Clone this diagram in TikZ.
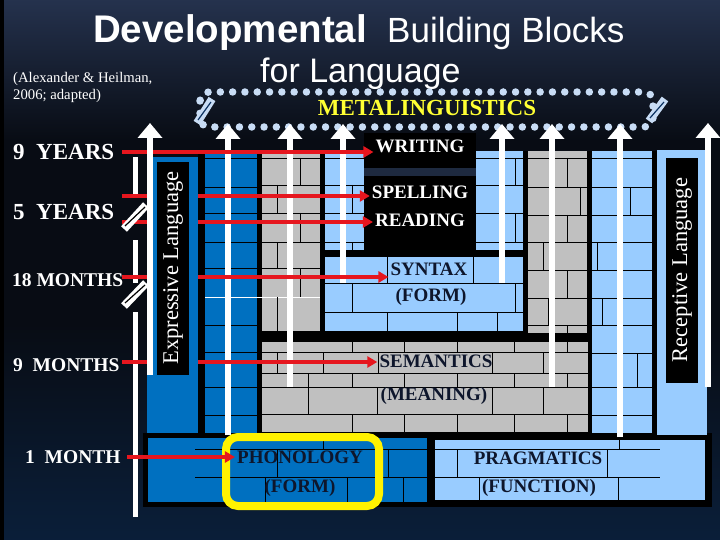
\documentclass[tikz,border=0pt]{standalone}
\usepackage{fontspec}
\setmainfont{Liberation Serif}
\newfontfamily\titlefont{Liberation Sans}
\usetikzlibrary{arrows.meta}
\newcommand\myfs[1]{\fontsize{#1}{#1}\selectfont}
\definecolor{bluebrick}{RGB}{0,112,192}
\definecolor{lightbrick}{RGB}{153,204,255}
\definecolor{graybrick}{RGB}{192,192,192}
\definecolor{redline}{RGB}{230,22,30}
\definecolor{dotblue}{RGB}{200,220,245}
\definecolor{blocktext}{RGB}{14,22,44}
\definecolor{metayellow}{RGB}{255,255,51}
\definecolor{bgtop}{RGB}{12,50,98}
\definecolor{bgmidtop}{RGB}{10,28,52}
\definecolor{bgdark}{RGB}{8,12,20}
\definecolor{bglow}{RGB}{52,70,108}
\definecolor{bgbot}{RGB}{90,110,156}
\definecolor{stripdark}{RGB}{30,42,64}
\pgfdeclareverticalshading{bgshade}{100bp}{color(0bp)=(bgtop); color(28bp)=(bgmidtop); color(45bp)=(bgdark); color(62bp)=(bgdark); color(82bp)=(bglow); color(100bp)=(bgbot)}
\begin{document}
\begin{tikzpicture}[x=1pt,y=-1pt,
  brick/.style={draw=black,line width=0.9pt},
  warrow/.style={draw=white,line width=6pt,-{Triangle[width=24pt,length=15pt]}},
  rarrow/.style={draw=redline,line width=4pt,-{Triangle[width=11pt,length=10pt]}},
  agelabel/.style={text=white,font=\bfseries\myfs{19.5},inner sep=0pt,anchor=west},
  blocklabel/.style={text=blocktext,font=\bfseries\myfs{19},inner sep=2pt},
  whitelabel/.style={text=white,font=\bfseries\myfs{19},inner sep=2pt},
  sidelabel/.style={text=white,font=\myfs{22.5},rotate=90,inner sep=0pt},
  breakmark/.style={draw=white,line width=8pt},
  breakline/.style={draw=black,line width=1.2pt}]
\useasboundingbox (0,0) rectangle (720,540);
\shade[shading=bgshade] (0,0) rectangle (720,540);
\fill[black] (0,0) rectangle (4,540);

% title
\node[anchor=base west,inner sep=0pt,text=white,font=\titlefont\bfseries\myfs{38.5}] (title1) at (93,43) {Developmental};
\node[anchor=base west,inner sep=0pt,text=white,font=\titlefont\myfs{35}] (title2) at (387,43) {Building Blocks};
\node[anchor=base west,inner sep=0pt,text=white,font=\titlefont\myfs{34}] (title3) at (260,83) {for Language};
\node[anchor=base west,inner sep=0pt,text=white,font=\myfs{14.7}] (cite1) at (13,83) {(Alexander \& Heilman,};
\node[anchor=base west,inner sep=0pt,text=white,font=\myfs{14.7}] (cite2) at (13,100) {2006; adapted)};

% metalinguistics
\draw[dotblue,line width=7.5pt,line cap=round,dash pattern=on 0pt off 12.3pt,rounded corners=9pt] (200,92) rectangle (653,127);
\draw[breakmark,draw=dotblue] (197,123) -- (212,99);
\draw[breakline,draw=bgtop] (198,120) -- (211,102);
\draw[breakmark,draw=dotblue] (649,121) -- (665,99);
\draw[breakline,draw=bgtop] (650,118) -- (664,102);
\node[text=metayellow,font=\bfseries\myfs{23},inner sep=0pt] (meta) at (427,108) {METALINGUISTICS};

% block backgrounds
\fill[black] (198,151) rectangle (657,437);
\fill[black] (143,433) rectangle (712,507);
\fill[bluebrick] (205,153) rectangle (257,433);
\fill[graybrick] (262,153) rectangle (320,331);
\fill[lightbrick] (325,151) rectangle (523,250);
\fill[lightbrick] (325,257) rectangle (523,331);
\fill[graybrick] (528,151) rectangle (587,333);
\fill[graybrick] (262,342) rectangle (588,432);
\fill[lightbrick] (592,151) rectangle (652,433);
\fill[lightbrick] (657,150) rectangle (707,435);
\fill[bluebrick] (148,438) rectangle (427,502);
\fill[lightbrick] (435,440) rectangle (705,500);

% brick joints: dark blue column
\foreach \y in {158,187,213,242,268,325,352,387,415} \draw[brick] (205,\y) -- (257,\y);
\draw[white,line width=0.6pt] (205,297) -- (320,297);
% gray left column
\foreach \y in {158,185,213,242,268} \draw[brick] (262,\y) -- (320,\y);
\foreach \a/\b/\x in {158/185/300,185/213/277,213/242/300,242/268/277,268/297/300,297/331/277} \draw[brick] (\x,\a) -- (\x,\b);
% light blue upper zone
\foreach \y in {158,185,213,242} \draw[brick] (325,\y) -- (523,\y);
\foreach \a/\b/\x in {158/185/515,185/213/352,213/242/515,242/250/352} \draw[brick] (\x,\a) -- (\x,\b);
% syntax block
\foreach \y in {283,312} \draw[brick] (325,\y) -- (523,\y);
\foreach \a/\b/\x in {257/283/387,257/283/473,283/312/352,283/312/515,312/331/387,312/331/457,312/331/497} \draw[brick] (\x,\a) -- (\x,\b);
% gray right column
\foreach \y in {158,187,215,242,270,298,325} \draw[brick] (528,\y) -- (587,\y);
\foreach \a/\b/\x in {158/187/567,187/215/580,215/242/567,242/270/543,270/298/567,298/325/548,325/333/567} \draw[brick] (\x,\a) -- (\x,\b);
% light blue right column
\foreach \y in {158,187,215,242,270,298,325,353,387,415} \draw[brick] (592,\y) -- (652,\y);
\foreach \a/\b/\x in {187/215/630,242/270/597,298/325/602,353/387/637,387/415/618} \draw[brick] (\x,\a) -- (\x,\b);
% semantics bottom
\foreach \y in {352,373,387,414} \draw[brick] (262,\y) -- (588,\y);
\foreach \x in {352,404,457,514,567} {\draw[brick] (\x,342) -- (\x,352); \draw[brick] (\x,373) -- (\x,387); \draw[brick] (\x,414) -- (\x,432);}
\foreach \x in {277,323,378,492,543} \draw[brick] (\x,352) -- (\x,373);
\foreach \x in {308,377,492,543} \draw[brick] (\x,387) -- (\x,414);
\draw[brick] (308,373) -- (308,387);
% phonology
\draw[brick] (195,449) -- (427,449);
\draw[brick] (195,477) -- (427,477);
\foreach \a/\b/\x in {438/449/323,449/477/277,449/477/388,477/502/265,477/502/347,477/502/403} \draw[brick] (\x,\a) -- (\x,\b);
% pragmatics
\draw[brick] (435,449) -- (660,449);
\draw[brick] (435,477) -- (660,477);
\foreach \a/\b/\x in {440/449/619,449/477/457,449/477/607,477/500/479,477/500/618} \draw[brick] (\x,\a) -- (\x,\b);

% black label boxes
\fill[black] (364,133) rectangle (476,168);
\fill[stripdark] (364,168) rectangle (476,176);
\fill[black] (364,176) rectangle (476,250);
\fill[black] (666,158) rectangle (698,383);

% phonology highlight
\draw[yellow,line width=8pt,rounded corners=12pt] (226,437) rectangle (379,506);

% block texts
\node[whitelabel] (writing) at (420,146) {WRITING};
\node[whitelabel] (spelling) at (420,192) {SPELLING};
\node[whitelabel] (reading) at (420,220) {READING};
\node[blocklabel] (syntax) at (429,269) {SYNTAX};
\node[blocklabel] (syntaxform) at (431,297) {(FORM)};
\node[blocklabel] (semantics) at (436,361) {SEMANTICS};
\node[blocklabel] (meaning) at (434,396) {(MEANING)};
\node[blocklabel] (phonology) at (300,457) {PHONOLOGY};
\node[blocklabel] (phonform) at (300,488) {(FORM)};
\node[blocklabel] (pragmatics) at (538,458) {PRAGMATICS};
\node[blocklabel] (function) at (539,488) {(FUNCTION)};
\node[sidelabel] (receptive) at (682,270) {Receptive Language};

% white developmental arrows
\coordinate (w2s) at (228,435); \coordinate (w2e) at (228,124);
\coordinate (w3s) at (290,387); \coordinate (w3e) at (290,124);
\coordinate (w4s) at (343,283); \coordinate (w4e) at (343,124);
\coordinate (w5s) at (502,283); \coordinate (w5e) at (502,124);
\coordinate (w6s) at (552,387); \coordinate (w6e) at (552,124);
\coordinate (w7s) at (620,437); \coordinate (w7e) at (620,124);
\coordinate (w8s) at (708,387); \coordinate (w8e) at (708,123);
\foreach \i in {2,...,8} \draw[warrow] (w\i s) -- (w\i e);

% time axis
\coordinate (t1) at (135,157); \coordinate (t2) at (135,197);
\coordinate (t3) at (135,240); \coordinate (t4) at (135,283);
\coordinate (t5) at (135,312); \coordinate (t6) at (135,517);
\draw[white,line width=5pt] (t1) -- (t2) (t3) -- (t4) (t5) -- (t6);

% age labels
\node[agelabel,font=\bfseries\myfs{23}] (y9) at (13,152) {9~~YEARS};
\node[agelabel,font=\bfseries\myfs{23}] (y5) at (13,212) {5~~YEARS};
\node[agelabel] (m18) at (12,280) {18 MONTHS};
\node[agelabel] (m9) at (13,365) {9~~MONTHS};
\node[agelabel] (m1) at (25,457) {1~~MONTH};

% red arrows
\coordinate (r9y) at (122,152);
\coordinate (r5a) at (122,196);
\coordinate (r5b) at (122,222);
\coordinate (r18) at (122,277);
\coordinate (r9m) at (122,362);
\coordinate (r1m) at (127,457);
\draw[rarrow] (r9y) -- (r9y -| writing.west);
\draw[rarrow] (r5a) -- (r5a -| spelling.west);
\draw[rarrow] (r5b) -- (r5b -| reading.west);
\draw[rarrow] (r18) -- (r18 -| syntax.west);
\draw[rarrow] (r9m) -- (r9m -| semantics.west);
\draw[rarrow] (r1m) -- (r1m -| phonology.west);

% break marks on the time axis
\draw[breakmark] (124,229) -- (146,205);
\draw[breakline] (125,226) -- (145,207);
\draw[breakmark] (124,306) -- (146,283);
\draw[breakline] (125,303) -- (145,285);

% expressive language column
\fill[bluebrick] (147,157) rectangle (198,433);
\fill[black] (157,162) rectangle (189,375);
\node[sidelabel] (expressive) at (173,268) {Expressive Language};
\coordinate (w1s) at (150,375); \coordinate (w1e) at (150,123);
\draw[warrow] (w1s) -- (w1e);
\end{tikzpicture}
\end{document}
